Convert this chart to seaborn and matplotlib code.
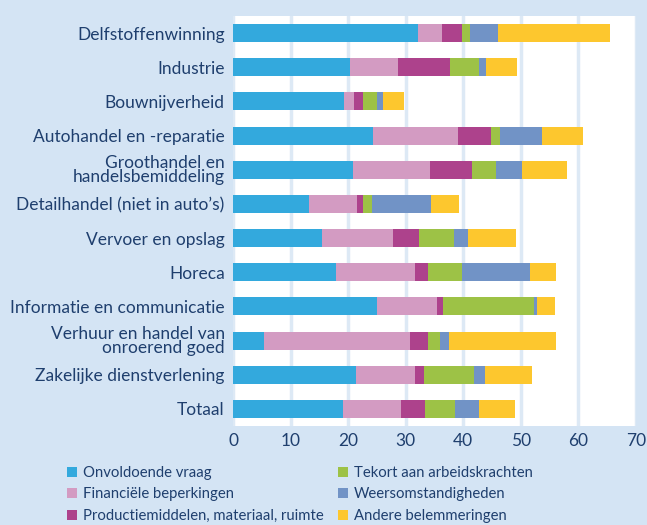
import matplotlib.pyplot as plt
import numpy as np
import pandas as pd
import seaborn as sns

# data (percent of firms)
sectors = [
    "Delfstoffenwinning",
    "Industrie",
    "Bouwnijverheid",
    "Autohandel en -reparatie",
    "Groothandel en\nhandelsbemiddeling",
    "Detailhandel (niet in auto’s)",
    "Vervoer en opslag",
    "Horeca",
    "Informatie en communicatie",
    "Verhuur en handel van\nonroerend goed",
    "Zakelijke dienstverlening",
    "Totaal",
]
onvoldoende_vraag = [32.1, 20.3, 19.3, 24.3, 20.8, 13.2, 15.4, 17.9, 25.0, 5.3, 21.3, 19.1]
financiele_beperkingen = [4.2, 8.3, 1.7, 14.8, 13.4, 8.3, 12.4, 13.7, 10.4, 25.4, 10.3, 10.1]
productiemiddelen = [3.5, 9.1, 1.6, 5.7, 7.3, 1.1, 4.5, 2.3, 1.1, 3.2, 1.6, 4.1]
tekort_arbeid = [1.4, 5.0, 2.4, 1.6, 4.2, 1.5, 6.1, 5.9, 15.8, 2.0, 8.7, 5.3]
weersomstandigheden = [4.9, 1.2, 1.0, 7.3, 4.5, 10.3, 2.4, 11.8, 0.5, 1.6, 1.9, 4.1]
andere = [19.3, 5.4, 3.7, 7.1, 7.8, 4.9, 8.4, 4.5, 3.1, 18.6, 8.1, 6.3]

series_names = [
    "Onvoldoende vraag",
    "Financiële beperkingen",
    "Productiemiddelen, materiaal, ruimte",
    "Tekort aan arbeidskrachten",
    "Weersomstandigheden",
    "Andere belemmeringen",
]
colors = ["#33a9dd", "#d39bc2", "#ad428c", "#9dc246", "#7193c6", "#fdc72e"]

bg = "#d4e4f4"
txt = "#1f3f6e"
fs = 12.5

sns.set_theme(style="white")
plt.rcParams["font.family"] = ["Lato", "DejaVu Sans"]

df = pd.DataFrame({
    "sector": sectors,
    series_names[0]: onvoldoende_vraag,
    series_names[1]: financiele_beperkingen,
    series_names[2]: productiemiddelen,
    series_names[3]: tekort_arbeid,
    series_names[4]: weersomstandigheden,
    series_names[5]: andere,
})
cum = df[series_names].cumsum(axis=1)

fig = plt.figure(figsize=(6.47, 5.25), dpi=100, facecolor=bg)
ax = fig.add_axes([233 / 647, 1 - 426 / 525, 403 / 647, 410 / 525])
ax.set_facecolor("white")

# stacked bars: draw cumulative totals from the back to the front
for name, col in reversed(list(zip(series_names, colors))):
    sns.barplot(x=cum[name], y=df["sector"], color=col, width=0.53,
                orient="h", ax=ax, label=name, saturation=1, linewidth=0)

ax.set_xlim(0, 70)
ax.set_ylim(11.5, -0.5)
ax.set_xticks(range(0, 71, 10))
ax.xaxis.grid(True, color="#dde9f5", linewidth=2.5)
ax.set_axisbelow(True)
for s in ax.spines.values():
    s.set_visible(False)
ax.set_xlabel("")
ax.set_ylabel("")
ax.tick_params(axis="both", length=0, labelsize=fs, labelcolor=txt)
ax.tick_params(axis="y", pad=6)
ax.tick_params(axis="x", pad=5)
for lab in ax.get_yticklabels():
    lab.set_linespacing(0.85)

handles, labels = ax.get_legend_handles_labels()
if ax.get_legend() is not None:
    ax.get_legend().remove()
order = [labels.index(n) for n in series_names]
fig.legend([handles[i] for i in order], [labels[i] for i in order],
           loc="upper left", bbox_to_anchor=(67 / 647, 1 - 466 / 525),
           ncol=2, frameon=False, fontsize=10.7, labelcolor=txt,
           handlelength=0.65, handleheight=0.65, handletextpad=0.4,
           columnspacing=1.0, labelspacing=0.5, borderaxespad=0,
           borderpad=0)

fig.savefig("out.png", dpi=100, facecolor=bg)
